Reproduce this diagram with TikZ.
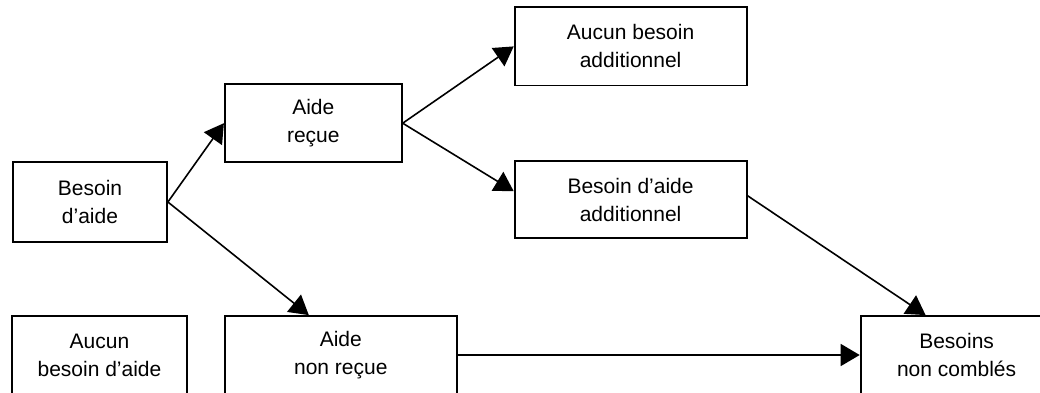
\documentclass[tikz,border=0pt]{standalone}
\usepackage{fontspec}
\setmainfont{Liberation Sans}
\usetikzlibrary{positioning,arrows.meta}

\begin{document}
\begin{tikzpicture}[x=1pt,y=1pt,
	box/.style={draw, line width=0.9pt, align=center, inner sep=0pt, minimum height=39pt, font=\fontsize{10.5}{14}\selectfont},
	flow/.style={line width=0.8pt, -{Triangle[length=9.5pt,width=11pt]}}]
	\useasboundingbox (0,0) rectangle (520,196);
	
	\node [box, minimum width=77pt, minimum height=40pt] (a) at (45,95) {Besoin\\d’aide};
	\node [box, minimum width=88.5pt, above right=-1pt and 28pt of a] (b) {Aide\\reçue};
	\node [box, minimum width=116pt, above right=-1.5pt and 55.5pt of b] (c) {Aucun besoin\\additionnel};
	\node [box, minimum width=116pt, minimum height=38.5pt, below=37pt of c] (d) {Besoin d’aide\\additionnel};
	\node [box, minimum width=116pt, below=76pt of b.south west, anchor=north west] (f) {Aide\\non reçue};
	\node [box, minimum width=87.5pt, left=18pt of f] (e) {Aucun\\besoin d’aide};
	\node [box, minimum width=96pt, right=201pt of f] (g) {Besoins\\non comblés};
	
	\draw [flow] (a.east) -- (b.west);
	\draw [flow] (a.east) -- ([xshift=-16pt]f.north);
	\draw [flow] (b.east) -- (c.west);
	\draw [flow] (b.east) -- ([yshift=4.25pt]d.west);
	\draw [flow] ([yshift=2pt]d.east) -- ([xshift=-15.5pt]g.north);
	\draw [flow] (f.east) -- (g.west);
\end{tikzpicture}
\end{document}
